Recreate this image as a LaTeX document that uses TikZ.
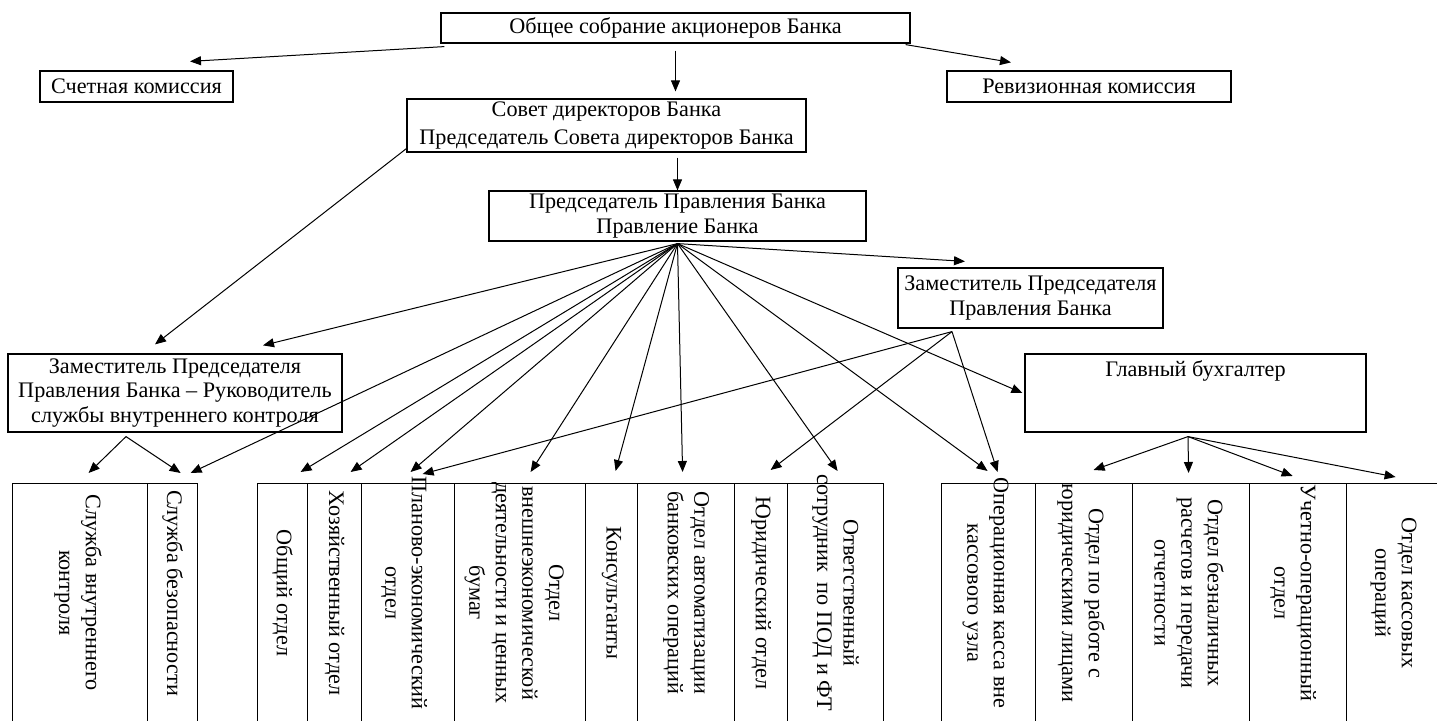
\documentclass[tikz,border=0pt]{standalone}
\usepackage{fontspec}
\setmainfont{Liberation Serif}
\usetikzlibrary{arrows.meta,calc}

\begin{document}
\begin{tikzpicture}[x=0.5pt,y=-0.5pt,
  box/.style={draw,line width=0.6pt,inner sep=0pt,align=center,font=\fontsize{11.1}{12.4}\selectfont},
  cell/.style={draw,line width=0.6pt,inner sep=0pt,minimum height=130pt,anchor=north west},
  vtext/.style={rotate=-90,align=center,inner sep=0pt,font=\fontsize{11.1}{13.3}\selectfont},
  arr/.style={-{Triangle[length=5.5pt,width=4.5pt]},line width=0.5pt}]
\useasboundingbox (0,0) rectangle (1437,721);
\clip (0,0) rectangle (1437,721);

\node[box,minimum width=234.5pt,minimum height=15pt] (top) at (675.5,28) {Общее собрание акционеров Банка};
\node[box,minimum width=96.5pt,minimum height=15.5pt] (schet) at (136.5,86.5) {Счетная комиссия};
\node[box,minimum width=142pt,minimum height=15.5pt] (reviz) at (1089,86.5) {Ревизионная комиссия};
\node[box,minimum width=199.5pt,minimum height=26.5pt] (sovet) at (606.5,125.5) {Совет директоров Банка\\[1.2pt]Председатель Совета директоров Банка};
\node[box,minimum width=188.5pt,minimum height=25pt] (pred) at (677.5,216) {Председатель Правления Банка\\Правление Банка};
\node[box,minimum width=132.5pt,minimum height=30pt] (zam2) at (1030.5,298) {Заместитель Председателя\\Правления Банка};
\node[box,minimum width=167pt,minimum height=39pt] (zam1) at (175,393) {Заместитель Председателя\\Правления Банка – Руководитель\\службы внутреннего контроля};
\node[box,minimum width=170.5pt,minimum height=39pt] (glbuh) at (1195.5,393) {};
\node[anchor=north,inner sep=0pt,font=\fontsize{11.1}{12.4}\selectfont] (glbuhT) at ([shift={(0,7)}]glbuh.north) {Главный бухгалтер};

% bottom row
\node[cell,minimum width=67.5pt] (c1) at (12,483) {};
\node[cell,minimum width=25pt] (c2) at (147,483) {};
\node[cell,minimum width=25pt] (c3) at (257,483) {};
\node[cell,minimum width=27pt] (c4) at (307,483) {};
\node[cell,minimum width=46.5pt] (c5) at (361,483) {};
\node[cell,minimum width=65.5pt] (c6) at (454,483) {};
\node[cell,minimum width=26pt] (c7) at (585,483) {};
\node[cell,minimum width=48.5pt] (c8) at (637,483) {};
\node[cell,minimum width=26.5pt] (c9) at (734,483) {};
\node[cell,minimum width=48pt] (c10) at (787,483) {};
\node[cell,minimum width=47pt] (c11) at (941,483) {};
\node[cell,minimum width=48.5pt] (c12) at (1035,483) {};
\node[cell,minimum width=58.5pt] (c13) at (1132,483) {};
\node[cell,minimum width=48.5pt] (c14) at (1249,483) {};
\node[cell,minimum width=47pt] (c15) at (1346,483) {};

\node[vtext] (t1) at ([shift={(-2,110)}]c1.north) {Служба внутреннего\\контроля};
\node[vtext] (t2) at ([shift={(0,110)}]c2.north) {Служба безопасности};
\node[vtext] (t3) at ([shift={(0,110)}]c3.north) {Общий отдел};
\node[vtext] (t4) at ([shift={(0,110)}]c4.north) {Хозяйственный отдел};
\node[vtext] (t5) at ([shift={(-4,110)}]c5.north) {Планово-экономический\\отдел};
\node[vtext] (t6) at ([shift={(-6,110)}]c6.north) {Отдел\\внешнеэкономической\\деятельности и ценных\\бумаг};
\node[vtext] (t7) at ([shift={(0,110)}]c7.north) {Консультанты};
\node[vtext] (t8) at ([shift={(0,110)}]c8.north) {Отдел автоматизации\\банковских операций};
\node[vtext] (t9) at ([shift={(0,110)}]c9.north) {Юридический отдел};
\node[vtext] (t10) at ([shift={(0,110)}]c10.north) {Ответственный\\сотрудник~ по ПОД и ФТ};
\node[vtext] (t11) at ([shift={(-3,110)}]c11.north) {Операционная касса вне\\кассового узла};
\node[vtext] (t12) at ([shift={(-3,110)}]c12.north) {Отдел по работе с\\юридическими лицами};
\node[vtext] (t13) at ([shift={(-2,110)}]c13.north) {Отдел безналичных\\расчетов и передачи\\отчетности};
\node[vtext] (t14) at ([shift={(-5,110)}]c14.north) {Учетно-операционный\\отдел};
\node[vtext] (t15) at ([shift={(0,110)}]c15.north) {Отдел кассовых\\операций};

% upper arrows
\draw[arr] ([shift={(4,3)}]top.south west) -- ([shift={(53.5,-9)}]schet.north);
\draw[arr] ([shift={(-5,1)}]top.south east) -- ([shift={(-78,-8)}]reviz.north);
\draw[arr] ([shift={(0,7)}]top.south) -- ([shift={(0,-7)}]top.south |- sovet.north);
\draw[arr] ([shift={(0,5)}]pred.north |- sovet.south) -- (pred.north);
\draw[arr] ([shift={(0,-4)}]sovet.south west) -- ([shift={(-20,-9)}]zam1.north);

\coordinate (predO) at ([shift={(0,2)}]pred.south);
\coordinate (zam1O) at ([shift={(-49,4)}]zam1.south);
\coordinate (zam2O) at ([shift={(-78.5,3)}]zam2.south);
\coordinate (glbuhO) at ([shift={(-7.5,4)}]glbuh.south);

% from Pravlenie
\draw[arr] (predO) -- ([shift={(88,-8)}]zam1.north);
\draw[arr] (predO) -- ([shift={(-65.5,-6)}]zam2.north);
\draw[arr] (predO) -- ([shift={(-2,0)}]glbuh.west);
\draw[arr] (predO) -- ([shift={(18,-10)}]c2.north);
\draw[arr] (predO) -- ([shift={(18,-11)}]c3.north);
\draw[arr] (predO) -- ([shift={(16,-11)}]c4.north);
\draw[arr] (predO) -- ([shift={(2.5,-11)}]c5.north);
\draw[arr] (predO) -- ([shift={(10.5,-11)}]c6.north);
\draw[arr] (predO) -- ([shift={(4,-12)}]c7.north);
\draw[arr] (predO) -- ([shift={(-3.5,-11)}]c8.north);
\draw[arr] (predO) -- ([shift={(2,-12)}]c10.north);
\draw[arr] (predO) -- ([shift={(-1,-12)}]c11.north);

% from deputies and chief accountant
\draw[arr] (zam1O) -- ([shift={(8.5,-10)}]c1.north);
\draw[arr] (zam1O) -- ([shift={(8,-10)}]c2.north);
\draw[arr] (zam2O) -- ([shift={(14.5,-9)}]c5.north);
\draw[arr] (zam2O) -- ([shift={(9.5,-13)}]c9.north);
\draw[arr] (zam2O) -- ([shift={(9,-11)}]c11.north);
\draw[arr] (glbuhO) -- ([shift={(9.5,-13)}]c12.north);
\draw[arr] (glbuhO) -- ([shift={(-2.5,-10)}]c13.north);
\draw[arr] (glbuhO) -- ([shift={(-5.5,-7)}]c14.north);
\draw[arr] (glbuhO) -- ([shift={(2,-6)}]c15.north);
\end{tikzpicture}
\end{document}
